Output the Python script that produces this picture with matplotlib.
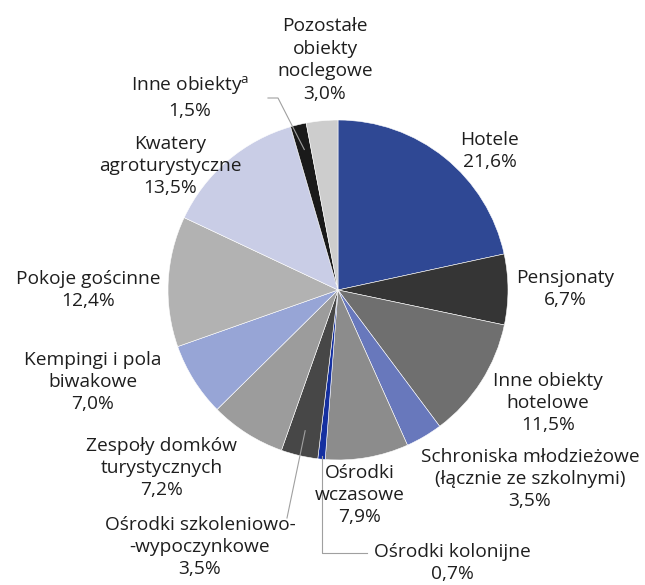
import matplotlib
matplotlib.use('Agg')
import matplotlib.pyplot as plt
import numpy as np

# Data
categories = ['Hotele', 'Pensjonaty', 'Inne obiekty\nhotelowe',
              'Schroniska młodzieżowe\n(łącznie ze szkolnymi)', 'Ośrodki\nwczasowe',
              'Ośrodki kolonijne', 'Ośrodki szkoleniowo-\n-wypoczynkowe',
              'Zespoły domków\nturystycznych', 'Kempingi i pola\nbiwakowe',
              'Pokoje gościnne', 'Kwatery\nagroturystyczne', 'Inne obiekty$^{\\mathregular{a}}$',
              'Pozostałe\nobiekty\nnoclegowe']
shares = [21.6, 6.7, 11.5, 3.5, 7.9, 0.7, 3.5, 7.2, 7.0, 12.4, 13.5, 1.5, 3.0]
colors = ['#2F4894', '#353535', '#6F6F6F', '#6878BC', '#8C8C8C', '#1530A0', '#474747',
          '#9C9C9C', '#97A5D6', '#B2B2B2', '#C9CDE6', '#1A1A1A', '#CDCDCD']

# label layout (pixel coords, y from top)
label_pos = [(490, 151), (565, 289), (548, 403), (530, 479), (360, 495), (452, 563),
             (200, 547), (162, 468), (93, 382), (88, 290), (170, 166), (190, 97),
             (325, 60)]

W, H = 645, 585
fig = plt.figure(figsize=(W / 100, H / 100), dpi=100)
ax = fig.add_axes([0, 0, 1, 1])

cx, cy, r = 338, H - 290, 170
wedges, _ = ax.pie(shares, colors=colors, startangle=90, counterclock=False,
                   center=(cx, cy), radius=r,
                   wedgeprops=dict(edgecolor='white', linewidth=0.4))
ax.set_xlim(0, W)
ax.set_ylim(0, H)
ax.axis('off')

for name, val, (lx, ly) in zip(categories, shares, label_pos):
    txt = name + '\n' + f'{val:.1f}%'.replace('.', ',')
    ax.text(lx, H - ly, txt, ha='center', va='center', fontsize=13.8,
            color='#1E1E1E', linespacing=1.32, family=['Open Sans', 'DejaVu Sans'])

# leader lines
def mid(i, f=0.75):
    w = wedges[i]
    a = np.deg2rad((w.theta1 + w.theta2) / 2)
    return cx + f * r * np.cos(a), cy + f * r * np.sin(a)

lc = '#A0A0A0'
# Inne obiekty
x1, y1 = mid(11, 0.85)
ax.plot([268, 278, x1], [H - 98, H - 98, y1], color=lc, lw=0.8)
# Ośrodki kolonijne
x1, y1 = mid(5, 0.98)
ax.plot([x1, x1, 367], [y1, H - 553, H - 553], color=lc, lw=0.8)
# Ośrodki szkoleniowo-wypoczynkowe
x1, y1 = mid(6, 0.85)
ax.plot([287, x1], [H - 518, y1], color=lc, lw=0.8)

plt.savefig('out.png', dpi=100)
